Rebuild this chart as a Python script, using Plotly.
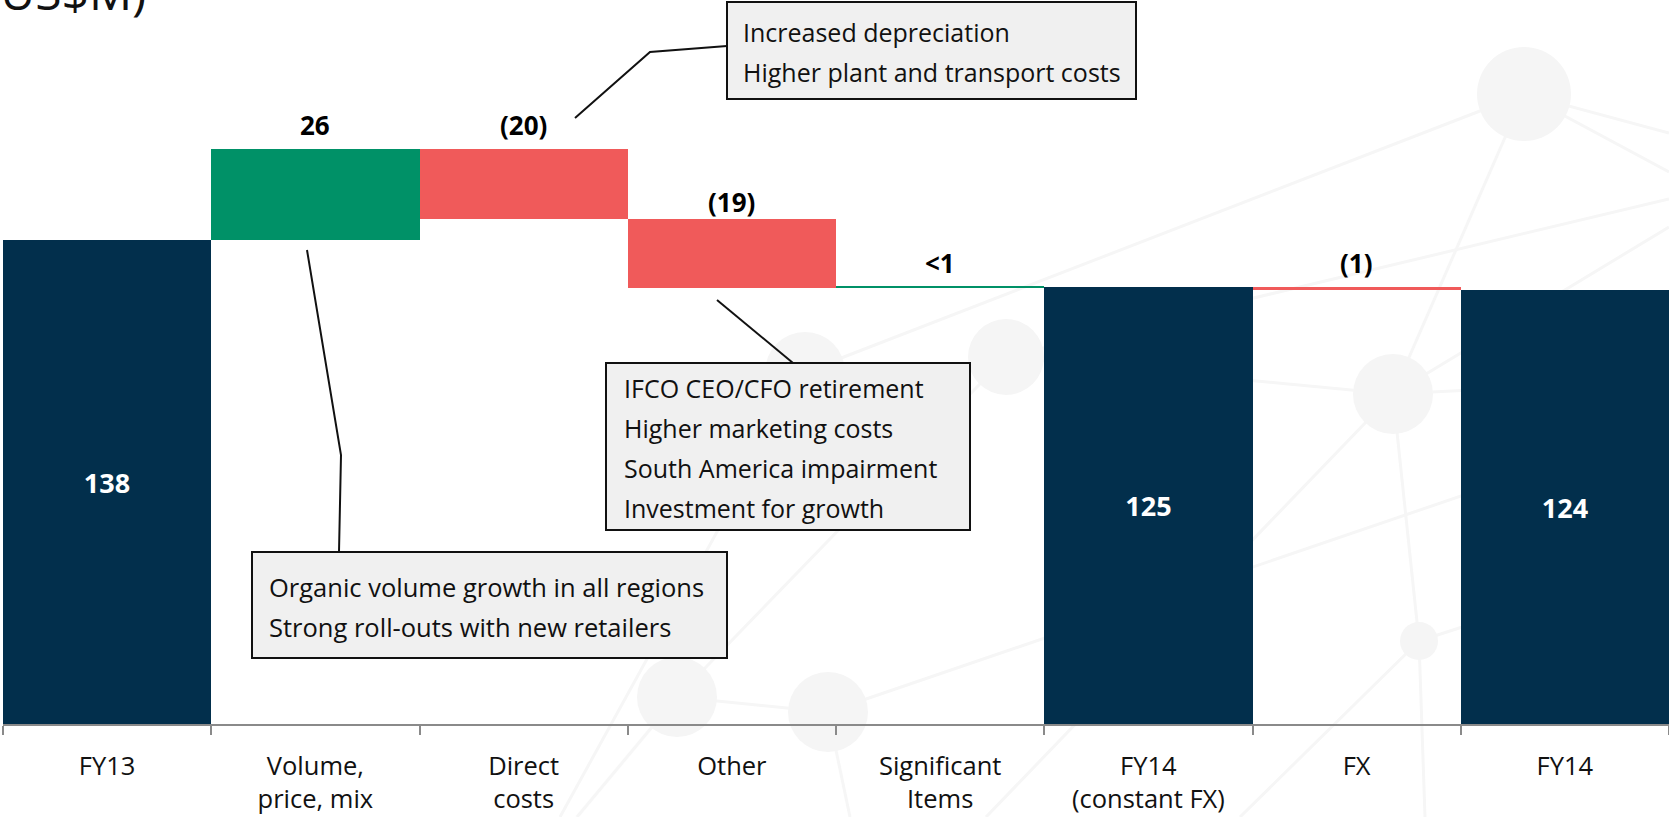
import plotly.graph_objects as go

# EBITDA bridge FY13 -> FY14 (US$M)
categories = ["FY13", "Volume,<br>price, mix", "Direct<br>costs", "Other",
              "Significant<br>Items", "FY14<br>(constant FX)", "FX", "FY14"]
measures = ["absolute", "relative", "relative", "relative",
            "relative", "total", "relative", "total"]
values = [138.4, 25.9, -20.1, -19.6, 0.3, 0, -1.0, 0]
value_labels = ["138", "26", "(20)", "(19)", "<1", "125", "(1)", "124"]

notes_direct = ["Increased depreciation", "Higher plant and transport costs"]
notes_other = ["IFCO CEO/CFO retirement", "Higher marketing costs",
               "South America impairment", "Investment for growth"]
notes_volume = ["Organic volume growth in all regions",
                "Strong roll-outs with new retailers"]

W, H = 1669, 817
ML, MB = 3, 93
PW, PH = W - ML, H - MB
FONT = "Open Sans, Noto Sans, sans-serif"


def px(x):
    return (x - ML) / PW


def py(y):
    return 1 - y / PH


# bar tops from the running total
tops = []
run = 0
for m, v in zip(measures, values):
    if m == "absolute":
        run = v
        tops.append(v)
    elif m == "total":
        tops.append(run)
    else:
        tops.append(max(run, run + v))
        run += v

is_total = [m != "relative" for m in measures]

fig = go.Figure()
fig.add_trace(go.Waterfall(
    x=categories,
    y=values,
    measure=measures,
    text=[t if tot else "" for t, tot in zip(value_labels, is_total)],
    textposition=["inside" if tot else "none" for tot in is_total],
    insidetextanchor="middle",
    insidetextfont=dict(family=FONT, size=27, color="white", weight="bold"),
    increasing=dict(marker=dict(color="#009167", line=dict(width=0))),
    decreasing=dict(marker=dict(color="#f05a5a", line=dict(width=0))),
    totals=dict(marker=dict(color="#022f4c", line=dict(width=0))),
    connector=dict(visible=False),
    hoverinfo="skip",
))

annotations = []
# the (19) label sits a little closer to its bar in the original slide
label_shift = {"(19)": -3}
for cat, lab, top, tot in zip(categories, value_labels, tops, is_total):
    if tot:
        continue
    annotations.append(dict(
        x=cat, y=top, xref="x", yref="y", yanchor="bottom",
        yshift=label_shift.get(lab, 4),
        text=lab.replace("<", "&lt;"), showarrow=False,
        font=dict(family=FONT, size=26, color="black", weight="bold")))

shapes = []

# faint network pattern in the background
nodes = [(1524, 94, 47), (1393, 394, 40), (1419, 641, 19), (1006, 357, 38),
         (805, 372, 40), (677, 697, 40), (828, 712, 40)]
edges = [((1524, 94), (805, 372)), ((1524, 94), (1393, 394)),
         ((1524, 94), (1669, 133)), ((1524, 94), (1669, 172)),
         ((1393, 394), (1669, 227)), ((1006, 357), (1669, 199)),
         ((1393, 394), (1006, 357)), ((1393, 394), (1419, 641)),
         ((1393, 394), (1669, 380)), ((1393, 394), (986, 817)),
         ((1419, 641), (1425, 817)), ((1419, 641), (1669, 560)),
         ((1419, 641), (1240, 817)), ((677, 697), (828, 712)),
         ((677, 697), (1006, 357)), ((828, 712), (1669, 425)),
         ((677, 697), (577, 817)), ((828, 712), (850, 817)),
         ((805, 372), (560, 817))]
for (x0, y0), (x1, y1) in edges:
    shapes.append(dict(type="line", xref="paper", yref="paper", layer="below",
                       x0=px(x0), y0=py(y0), x1=px(x1), y1=py(y1),
                       line=dict(color="#f6f6f6", width=3)))
for cx, cy, r in nodes:
    shapes.append(dict(type="circle", xref="paper", yref="paper", layer="below",
                       x0=px(cx - r), x1=px(cx + r), y0=py(cy - r), y1=py(cy + r),
                       fillcolor="#f5f5f5", line=dict(width=0)))


def callout(box, lines, text_x, line_y, leader, size):
    x0, y0, x1, y1 = box
    shapes.append(dict(type="rect", xref="paper", yref="paper", layer="above",
                       x0=px(x0), x1=px(x1), y0=py(y0), y1=py(y1),
                       fillcolor="#f0f0f0", line=dict(color="#111111", width=2)))
    path = "M " + " L ".join(f"{px(a)},{py(b)}" for a, b in leader)
    shapes.append(dict(type="path", xref="paper", yref="paper", layer="above",
                       path=path, line=dict(color="#111111", width=2)))
    for t, ly in zip(lines, line_y):
        annotations.append(dict(x=px(text_x), y=py(ly), xref="paper", yref="paper",
                                xanchor="left", yanchor="middle", text=t,
                                showarrow=False,
                                font=dict(family=FONT, size=size, color="#111111")))


callout((727, 2, 1136, 99), notes_direct, 741, [32, 72],
        [(575, 118), (650, 52), (727, 46)], 25)
callout((606, 363, 970, 530), notes_other, 622, [388, 428, 468, 508],
        [(717, 300), (793, 363)], 25)
callout((252, 552, 727, 658), notes_volume, 267, [587, 627],
        [(307, 250), (341, 455), (339, 552)], 25.5)

# title, mostly cut off by the top edge of the slide
annotations.append(dict(x=px(148), y=1, xref="paper", yref="paper",
                        xanchor="right", yanchor="bottom", yshift=-26,
                        text="(US$M)", showarrow=False,
                        font=dict(family=FONT, size=48, color="#111111")))

fig.update_layout(
    width=W, height=H,
    margin=dict(l=ML, r=0, t=0, b=MB),
    paper_bgcolor="white", plot_bgcolor="rgba(0,0,0,0)",
    showlegend=False,
    waterfallgap=0,
    shapes=shapes,
    annotations=annotations,
    font=dict(family=FONT, color="#111111"),
)
fig.update_xaxes(
    type="category",
    showline=True, linecolor="#8a8a8a", linewidth=2,
    ticks="outside", tickson="boundaries", ticklen=9, tickwidth=1.5,
    tickcolor="#8a8a8a", ticklabelstandoff=18,
    tickfont=dict(family=FONT, size=25.5, color="#111111"),
    showgrid=False, zeroline=False, fixedrange=True,
)
fig.update_yaxes(
    range=[0, PH / 3.5], visible=False, showgrid=False, zeroline=False,
    fixedrange=True,
)

# page body has a default margin; drop it so the chart sits at the corner
fig.write_html("out.html", config={"displayModeBar": False},
               post_script="document.body.style.margin='0';")
